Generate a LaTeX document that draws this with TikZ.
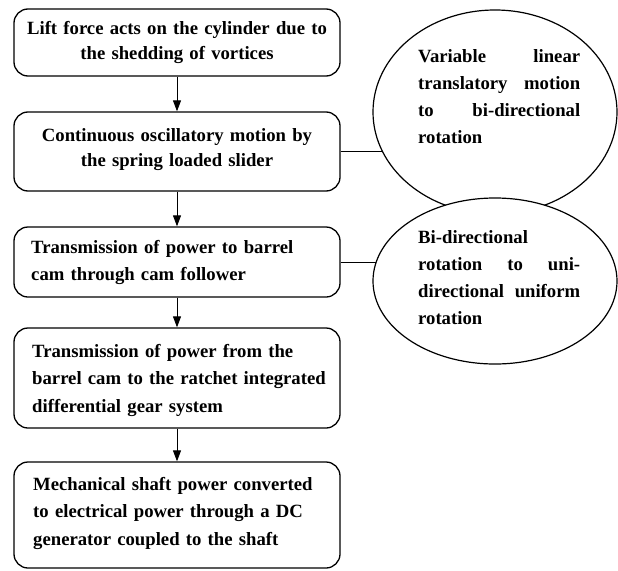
\documentclass[tikz,border=0pt]{standalone}
\usepackage{fontspec}
\setmainfont{Liberation Serif}
\usetikzlibrary{arrows.meta,shapes.geometric}
\begin{document}
\begin{tikzpicture}[x=1pt,y=-1pt,
  flowbox/.style={draw, rounded corners=14pt, line width=1.3pt, minimum width=326pt, inner sep=0pt},
  ctxt/.style={inner sep=0pt, text width=320pt, align=center, anchor=base, font=\fontsize{18.7}{25}\selectfont\bfseries},
  ltxt/.style={inner sep=0pt, text width=305pt, align=left, anchor=base west, font=\fontsize{18.7}{27.5}\selectfont\bfseries},
  etxt/.style={inner sep=0pt, text width=162pt, align=left, anchor=base west, font=\fontsize{18.7}{27}\selectfont\bfseries},
  oval/.style={draw, ellipse, line width=1.2pt, inner sep=0pt, fill=white},
  arr/.style={line width=0.9pt, -{Triangle[length=11pt,width=8pt]}},
  conn/.style={line width=0.9pt}]
\useasboundingbox (0,0) rectangle (618,570);

% boxes
\node[flowbox, minimum height=67pt] (b1) at (177,42.5) {};
\node[flowbox, minimum height=79pt] (b2) at (177,151.5) {};
\node[flowbox, minimum height=70pt] (b3) at (177,262) {};
\node[flowbox, minimum height=100pt] (b4) at (177,378) {};
\node[flowbox, minimum height=106pt] (b5) at (177,515) {};

% box texts
\node[ctxt] (t1) at (177,34) {Lift force acts on the cylinder due to\\the shedding of vortices};
\node[ctxt] (t2) at (177,141.5) {Continuous oscillatory motion by\\the spring loaded slider};
\node[ltxt] (t3) at (31,253) {Transmission of power to barrel\\cam through cam follower};
\node[ltxt] (t4) at (32,357) {Transmission of power from the\\barrel cam to the ratchet integrated\\differential gear system};
\node[ltxt] (t5) at (33,490) {Mechanical shaft power converted\\to electrical power through a DC\\generator coupled to the shaft};

% ellipses
\node[oval, minimum width=244pt, minimum height=204pt] (e1) at (495,112) {};
\node[oval, minimum width=244pt, minimum height=166pt] (e2) at (495,281) {};
\node[etxt] (e1t) at (418,62) {Variable\hfill linear\\translatory\hfill motion\\to\hfill bi-directional\\rotation};
\node[etxt] (e2t) at (418,243) {Bi-directional\\rotation\hfill to\hfill uni-\\directional\hfill uniform\\rotation};

% arrows
\draw[arr] (b1.south) -- (b2.north);
\draw[arr] (b2.south) -- (b3.north);
\draw[arr] (b3.south) -- (b4.north);
\draw[arr] (b4.south) -- (b5.north);

% connectors
\draw[conn] (b2.east) -- (b2.east -| e1.199.7);
\draw[conn] (b3.east) -- (b3.east -| e2.170.9);
\end{tikzpicture}
\end{document}
